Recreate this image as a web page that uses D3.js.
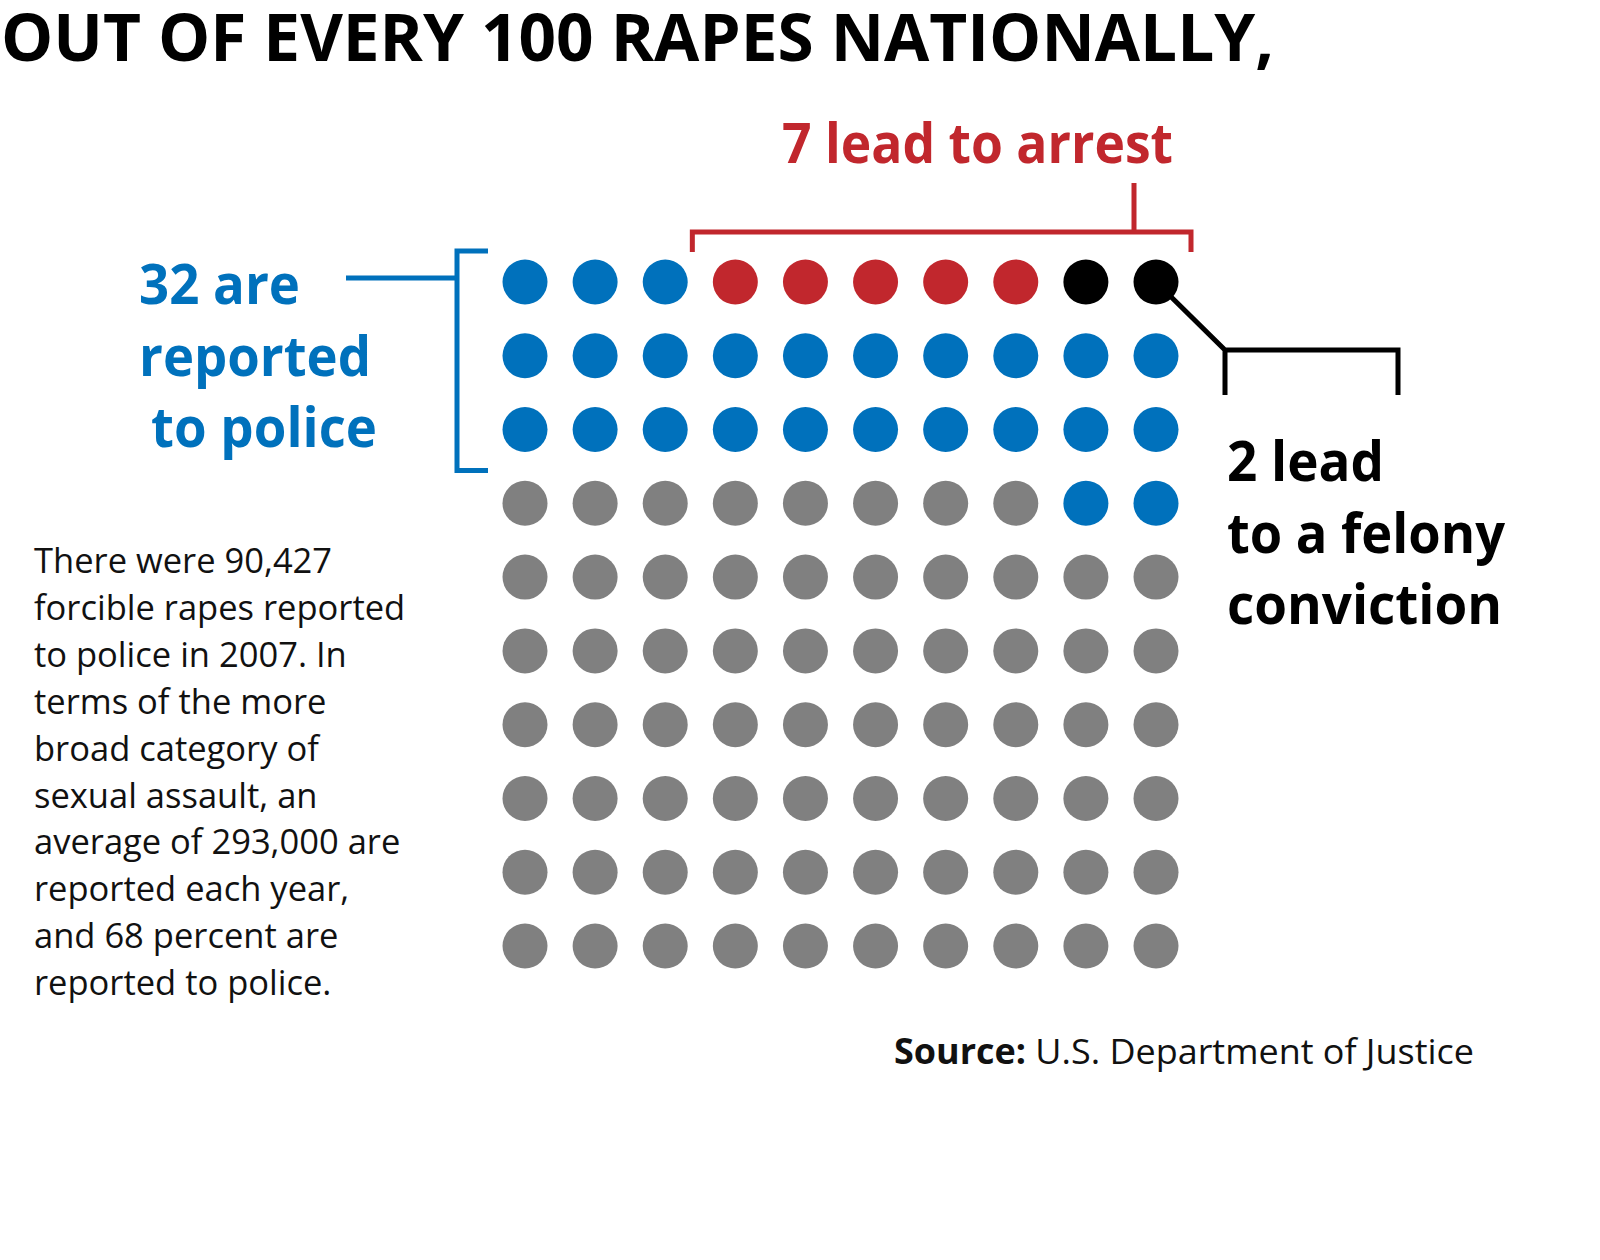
<!DOCTYPE html>
<html>
<head>
<meta charset="utf-8">
<script src="https://cdn.jsdelivr.net/npm/d3@7/dist/d3.min.js"></script>
<style>
  body { margin: 0; background: #fff; }
  svg { display: block; }
  text { font-family: "Open Sans", "Noto Sans", sans-serif; }
</style>
</head>
<body>
<svg id="chart" width="1600" height="1260"></svg>
<script>
// outcome categories, in the order they are counted
const categories = ["convicted", "arrested", "reported", "unreported"];
const counts = [2, 5, 25, 68];
const colors = ["#000000", "#c1272d", "#0071bc", "#808080"];

// which category each cell shows, row by row
const grid = [
  ["reported", "reported", "reported", "arrested", "arrested", "arrested", "arrested", "arrested", "convicted", "convicted"],
  ["reported", "reported", "reported", "reported", "reported", "reported", "reported", "reported", "reported", "reported"],
  ["reported", "reported", "reported", "reported", "reported", "reported", "reported", "reported", "reported", "reported"],
  ["unreported", "unreported", "unreported", "unreported", "unreported", "unreported", "unreported", "unreported", "reported", "reported"],
  ["unreported", "unreported", "unreported", "unreported", "unreported", "unreported", "unreported", "unreported", "unreported", "unreported"],
  ["unreported", "unreported", "unreported", "unreported", "unreported", "unreported", "unreported", "unreported", "unreported", "unreported"],
  ["unreported", "unreported", "unreported", "unreported", "unreported", "unreported", "unreported", "unreported", "unreported", "unreported"],
  ["unreported", "unreported", "unreported", "unreported", "unreported", "unreported", "unreported", "unreported", "unreported", "unreported"],
  ["unreported", "unreported", "unreported", "unreported", "unreported", "unreported", "unreported", "unreported", "unreported", "unreported"],
  ["unreported", "unreported", "unreported", "unreported", "unreported", "unreported", "unreported", "unreported", "unreported", "unreported"]
];

const title = "OUT OF EVERY 100 RAPES NATIONALLY,";
const arrestLabel = ["7 lead to arrest"];
const reportedLabel = ["32 are", "reported", "to police"];
const convictLabel = ["2 lead", "to a felony", "conviction"];
const bodyText = [
  "There were 90,427",
  "forcible rapes reported",
  "to police in 2007. In",
  "terms of the more",
  "broad category of",
  "sexual assault, an",
  "average of 293,000 are",
  "reported each year,",
  "and 68 percent are",
  "reported to police."
];

const svg = d3.select("#chart");

const cells = grid.flatMap((row, r) => row.map((cat, c) => ({ r, c, cat })));

const x = d3.scalePoint().domain(d3.range(10)).range([525, 1156]);
const y = d3.scalePoint().domain(d3.range(10)).range([282, 946]);
const color = d3.scaleOrdinal().domain(categories).range(colors);
const rad = 22.5;

svg.append("g")
  .selectAll("circle")
  .data(cells)
  .join("circle")
  .attr("cx", d => x(d.c))
  .attr("cy", d => y(d.r))
  .attr("r", rad)
  .attr("fill", d => color(d.cat));

// title
svg.append("text")
  .attr("x", 1)
  .attr("y", 61)
  .attr("font-size", 67)
  .attr("font-weight", 700)
  .attr("textLength", 1273)
  .attr("lengthAdjust", "spacingAndGlyphs")
  .attr("fill", "#000")
  .text(title);

// red bracket over the arrested + convicted dots
const arrestCols = cells.filter(d => d.r === 0 && (d.cat === "arrested" || d.cat === "convicted")).map(d => d.c);
const ax0 = x(d3.min(arrestCols)) - 43, ax1 = x(d3.max(arrestCols)) + 35;
const by = 232, red = color("arrested");
svg.append("path")
  .attr("d", `M${ax0},${by + 20}V${by}H${ax1}V${by + 20}M${ax1 - 57},${by}V${by - 49}`)
  .attr("fill", "none")
  .attr("stroke", red)
  .attr("stroke-width", 5);

svg.append("text")
  .attr("x", 782)
  .attr("y", 163)
  .attr("font-size", 55)
  .attr("font-weight", 700)
  .attr("fill", red)
  .attr("textLength", 391)
  .attr("lengthAdjust", "spacingAndGlyphs")
  .text(arrestLabel[0]);

// blue bracket beside the reported rows
const blue = color("reported");
const reportedRows = d3.range(3);
const bx = 457, bt = y(d3.min(reportedRows)) - 31, bb = y(d3.max(reportedRows)) + 41;
svg.append("path")
  .attr("d", `M${bx + 31},${bt}H${bx}V${bb}H${bx + 31}M${bx},${y(0) - 4}H346`)
  .attr("fill", "none")
  .attr("stroke", blue)
  .attr("stroke-width", 5);

const repX = [139, 139, 151];
const repW = [161, 232, 226];
svg.append("g")
  .selectAll("text")
  .data(reportedLabel)
  .join("text")
  .attr("x", (d, i) => repX[i])
  .attr("y", (d, i) => 304 + i * 71.5)
  .attr("font-size", 55)
  .attr("font-weight", 700)
  .attr("fill", blue)
  .attr("textLength", (d, i) => repW[i])
  .attr("lengthAdjust", "spacingAndGlyphs")
  .text(d => d);

// black connector from the last convicted dot
const last = cells.filter(d => d.cat === "convicted").pop();
const lx = x(last.c), ly = y(last.r);
svg.append("path")
  .attr("d", `M${lx},${ly}L1225,350H1398V395M1225,348V395`)
  .attr("fill", "none")
  .attr("stroke", "#000")
  .attr("stroke-width", 5);

const convW = [157, 278, 275];
svg.append("g")
  .selectAll("text")
  .data(convictLabel)
  .join("text")
  .attr("x", 1227)
  .attr("y", (d, i) => 481 + i * 71.5)
  .attr("font-size", 55)
  .attr("font-weight", 700)
  .attr("fill", "#000")
  .attr("textLength", (d, i) => convW[i])
  .attr("lengthAdjust", "spacingAndGlyphs")
  .text(d => d);

// explanatory paragraph
svg.append("g")
  .selectAll("text")
  .data(bodyText)
  .join("text")
  .attr("x", 34)
  .attr("y", (d, i) => 573 + i * 46.9)
  .attr("font-size", 34.5)
  .attr("fill", "#111")
  .text(d => d);

// source line
const src = svg.append("text")
  .attr("x", 894)
  .attr("y", 1064)
  .attr("font-size", 35.5)
  .attr("fill", "#111")
  .attr("textLength", 580)
  .attr("lengthAdjust", "spacingAndGlyphs");
src.append("tspan").attr("font-weight", 700).text("Source:");
src.append("tspan").text(" U.S. Department of Justice");
</script>
</body>
</html>
